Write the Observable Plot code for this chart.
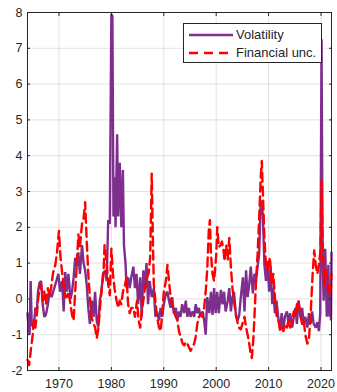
<!DOCTYPE html>
<html>
<head>
<meta charset="utf-8">
<script src="https://cdn.jsdelivr.net/npm/d3@7"></script>
<script src="https://cdn.jsdelivr.net/npm/@observablehq/plot@0.6"></script>
<style>
  html, body { margin: 0; padding: 0; background: #fff; }
  #wrap { position: relative; width: 337px; height: 392px; }
  #legend {
    position: absolute; left: 183px; top: 23px; width: 137px; height: 38px;
    background: #fff; border: 1px solid #262626;
    font-family: "Liberation Sans", Arial, sans-serif; font-size: 13px; color: #262626;
  }
  #legend .row { position: absolute; left: 0; height: 18px; width: 100%; }
  #legend svg { position: absolute; left: 4px; top: 0; }
  #legend span { position: absolute; left: 52px; top: 1px; line-height: 16px; white-space: nowrap; }
</style>
</head>
<body>
<div id="wrap"></div>
<script>
// Volatility index (standardized), sample dates in decimal years
const volDates = [
  1964.0, 1964.2, 1964.4, 1964.6, 1964.8, 1965.1, 1965.3, 1965.5, 1965.8, 1966.0,
  1966.3, 1966.6, 1966.9, 1967.2, 1967.5, 1967.9, 1968.2, 1968.6, 1969.3, 1969.9,
  1970.2, 1970.6, 1970.9, 1971.2, 1971.5, 1971.8, 1972.2, 1972.5, 1972.8, 1973.1,
  1973.4, 1973.7, 1974.0, 1974.4, 1974.7, 1975.0, 1975.3, 1975.6, 1975.9, 1976.3,
  1976.6, 1976.9, 1977.2, 1977.5, 1977.8, 1978.1, 1978.4, 1978.8, 1979.1, 1979.4,
  1979.7, 1980.0, 1980.2, 1980.4, 1980.6, 1980.8, 1981.1, 1981.3, 1981.6, 1981.9,
  1982.2, 1982.4, 1982.7, 1982.9, 1983.2, 1983.5, 1983.8, 1984.2, 1984.5, 1984.8,
  1985.1, 1985.5, 1985.8, 1986.1, 1986.4, 1986.7, 1987.0, 1987.3, 1987.7, 1988.1,
  1988.4, 1988.7, 1989.1, 1989.4, 1989.7, 1990.0, 1990.4, 1990.7, 1991.0, 1991.3,
  1991.6, 1991.9, 1992.3, 1992.6, 1992.9, 1993.2, 1993.5, 1993.9, 1994.2, 1994.5,
  1994.8, 1995.1, 1995.5, 1995.8, 1996.1, 1996.4, 1996.7, 1997.0, 1997.4, 1997.7,
  1998.0, 1998.3, 1998.7, 1999.0, 1999.3, 1999.6, 1999.9, 2000.2, 2000.5, 2000.9,
  2001.2, 2001.5, 2001.8, 2002.2, 2002.5, 2002.8, 2003.1, 2003.4, 2003.8, 2004.1,
  2004.4, 2004.7, 2005.1, 2005.4, 2005.7, 2006.0, 2006.3, 2006.6, 2007.0, 2007.3,
  2007.6, 2007.9, 2008.2, 2008.5, 2008.9, 2009.2, 2009.5, 2009.8, 2010.1, 2010.4,
  2010.7, 2010.9, 2011.2, 2011.5, 2011.9, 2012.2, 2012.5, 2012.8, 2013.1, 2013.5,
  2013.8, 2014.1, 2014.5, 2014.8, 2015.1, 2015.4, 2015.7, 2016.1, 2016.4, 2016.7,
  2017.0, 2017.4, 2017.7, 2018.0, 2018.3, 2018.6, 2019.0, 2019.3, 2019.6, 2019.85,
  2020.1, 2020.3, 2020.5, 2020.8, 2021.1, 2021.4, 2021.6, 2021.8, 2021.9, 2022.0
];
const volValues = [
  -0.4, -0.8, -1.0, 0.5, -0.7, -0.8, -0.6, -0.25, -0.3, 0.2,
  0.45, 0.5, -0.15, -0.5, -0.45, -0.15, 0.2, 0.05, 0.4, 0.7,
  0.2, 0.5, -0.35, 0.75, 0.2, 0.7, 0.0, 0.2, 0.6, 1.15,
  0.9, 1.3, 0.7, 1.5, 1.0, 0.8, 0.4, -0.25, -0.7, -0.05,
  -0.5, 0.2, -0.6, -0.8, -0.05, 0.2, 0.7, 0.8, 0.5, 2.2,
  2.1, 7.95, 7.9, 2.3, 3.4, 2.0, 4.6, 2.3, 3.8, 2.0,
  3.6, 1.5, 1.0, 0.3, 0.6, 0.3, 0.6, 0.9, 0.3, 0.7,
  -0.15, 0.6, -0.5, 0.8, 0.3, 1.0, -0.15, 0.5, 0.05, 0.3,
  -0.5, -0.35, -0.6, -0.25, -0.5, -0.15, 0.15, 0.2, -0.05, -0.25,
  0.05, -0.4, -0.25, -0.6, -0.35, -0.5, -0.15, -0.4, -0.05, -0.5,
  -0.25, -0.5, -0.35, -0.5, -0.15, -0.4, -0.25, -0.5, -0.35, -0.6,
  -1.0, 0.05, -0.4, 0.2, -0.45, 0.3, -0.4, 0.2, -0.4, 0.25,
  -0.15, 0.2, -0.35, -0.05, 0.3, -0.35, 0.05, 0.2, -0.5, -0.6,
  -0.45, 0.05, 0.6, -0.35, 0.8, 0.05, 0.4, 0.9, 0.15, 0.7,
  0.5, 0.9, 1.25, 2.75, 2.35, 0.95, 0.5, 1.05, 0.2, 0.9,
  -0.15, 0.3, -0.4, -0.05, -0.6, -0.8, -0.4, -0.9, -0.5, -0.35,
  -0.7, -0.4, -0.8, -0.5, -0.25, -0.7, -0.05, -0.5, -0.25, -0.7,
  -0.5, -0.8, -0.4, -0.7, -0.35, -0.7, -0.8, -0.65, -0.9, -0.4,
  7.25, 1.15, -0.05, 1.4, -0.5, 0.95, -0.5, 0.2, -0.6, 1.3
];

// Financial uncertainty (standardized)
const uncDates = [
  1964.0, 1964.3, 1964.7, 1965.0, 1965.2, 1965.5, 1965.8, 1966.0, 1966.3, 1966.6,
  1966.9, 1967.2, 1967.5, 1967.9, 1968.2, 1968.5, 1968.9, 1969.3, 1969.6, 1970.0,
  1970.3, 1970.6, 1970.9, 1971.2, 1971.5, 1971.8, 1972.1, 1972.5, 1972.8, 1973.1,
  1973.4, 1973.7, 1974.0, 1974.4, 1974.7, 1975.0, 1975.3, 1975.6, 1975.9, 1976.2,
  1976.6, 1976.9, 1977.2, 1977.5, 1977.8, 1978.1, 1978.5, 1978.7, 1979.1, 1979.4,
  1979.7, 1980.0, 1980.3, 1980.6, 1981.0, 1981.3, 1981.6, 1981.9, 1982.2, 1982.6,
  1982.9, 1983.2, 1983.5, 1983.8, 1984.2, 1984.5, 1984.9, 1985.2, 1985.5, 1985.8,
  1986.1, 1986.4, 1986.8, 1987.1, 1987.4, 1987.7, 1987.9, 1988.1, 1988.4, 1988.7,
  1989.1, 1989.4, 1989.7, 1990.0, 1990.4, 1990.7, 1991.0, 1991.3, 1991.6, 1991.9,
  1992.3, 1992.6, 1992.9, 1993.2, 1993.6, 1993.9, 1994.2, 1994.5, 1994.8, 1995.1,
  1995.5, 1995.8, 1996.1, 1996.4, 1996.7, 1997.0, 1997.4, 1997.7, 1998.0, 1998.3,
  1998.6, 1998.8, 1999.0, 1999.3, 1999.6, 2000.0, 2000.2, 2000.5, 2000.8, 2001.1,
  2001.4, 2001.6, 2001.9, 2002.2, 2002.5, 2002.8, 2003.1, 2003.4, 2003.7, 2004.0,
  2004.3, 2004.7, 2005.0, 2005.4, 2005.7, 2006.0, 2006.3, 2006.6, 2006.8, 2007.1,
  2007.3, 2007.6, 2007.9, 2008.2, 2008.5, 2008.7, 2008.9, 2009.2, 2009.5, 2009.8,
  2010.1, 2010.3, 2010.6, 2010.9, 2011.2, 2011.5, 2011.9, 2012.2, 2012.5, 2012.8,
  2013.2, 2013.5, 2013.8, 2014.1, 2014.5, 2014.8, 2015.1, 2015.4, 2015.7, 2016.1,
  2016.4, 2016.7, 2017.0, 2017.4, 2017.7, 2018.0, 2018.4, 2018.7, 2019.0, 2019.3,
  2019.6, 2019.9, 2020.1, 2020.3, 2020.6, 2020.9, 2021.2, 2021.5, 2021.9, 2022.0
];
const uncValues = [
  -1.7, -1.85, -1.35, -1.0, -0.6, -0.8, -0.4, -0.05, 0.3, 0.4,
  -0.05, 0.2, -0.15, 0.3, 0.05, 0.3, 0.75, 0.95, 1.25, 1.9,
  1.15, 0.75, 0.4, 0.05, 0.05, 0.2, -0.05, -0.45, -0.6, 0.2,
  0.95, 1.8, 1.45, 2.1, 2.25, 2.7, 1.6, 0.7, 0.05, -0.5,
  -0.7, -0.8, -1.1, -0.85, -0.3, 0.2, 0.7, 1.5, 1.0, 0.4,
  0.1, 1.4, 0.7, 0.3, -0.05, -0.25, -0.05, -0.15, 0.2, 0.4,
  0.6, -0.15, -0.4, -0.25, -0.25, -0.5, -0.05, -0.6, -0.8, -0.35,
  -0.05, 0.3, 0.6, 0.7, 1.15, 3.5, 1.8, 0.4, -0.05, -0.5,
  -0.8, -0.9, -0.45, 0.2, 0.5, 0.95, 0.5, 0.05, -0.15, -0.35,
  -0.5, -0.6, -0.9, -1.05, -1.25, -1.3, -1.2, -1.25, -1.35, -1.45,
  -1.35, -1.25, -1.05, -0.7, -0.5, -0.45, -0.5, -0.25, 0.2, 0.85,
  1.95, 2.2, 1.25, 0.7, 0.5, 1.2, 2.0, 1.45, 1.5, 1.6,
  1.35, 1.05, 1.5, 1.1, 1.7, 0.9, 0.3, -0.05, -0.4, -0.6,
  -0.8, -0.85, -0.7, -0.5, -0.8, -1.0, -1.25, -1.55, -1.65, -1.1,
  -0.5, 0.5, 1.25, 2.25, 3.4, 3.85, 3.0, 1.7, 0.95, 0.8,
  1.15, 1.05, 0.4, 0.7, 0.05, -0.45, -0.6, -0.9, -0.8, -0.9,
  -0.7, -0.8, -0.6, -0.8, -0.6, -0.35, -0.5, -0.15, -0.05, -0.5,
  -0.7, -0.6, -1.0, -1.25, -1.1, -0.5, 0.7, 1.35, 0.95, 0.7,
  0.95, 1.35, 3.3, 1.6, 0.4, 0.8, 0.5, 0.1, 0.3, 0.7
];

const xTicks = [1970, 1980, 1990, 2000, 2010, 2020];
const yTicks = [-2, -1, 0, 1, 2, 3, 4, 5, 6, 7, 8];
const seriesNames = ["Volatility", "Financial unc."];

const vol = volDates.map((t, i) => ({t, v: volValues[i]}));
const unc = uncDates.map((t, i) => ({t, v: uncValues[i]}));

const ink = "#262626";
const purple = "#7E2F8E";
const red = "#FF0000";

const chart = Plot.plot({
  width: 337,
  height: 392,
  marginLeft: 27,
  marginRight: 6,
  marginTop: 12,
  marginBottom: 22,
  style: {fontFamily: "'Liberation Sans', Arial, sans-serif", fontSize: "12.5px", color: ink, background: "#fff"},
  x: {domain: [1964, 2022]},
  y: {domain: [-2, 8]},
  marks: [
    Plot.gridX(xTicks, {stroke: ink, strokeOpacity: 0.13}),
    Plot.gridY(yTicks, {stroke: ink, strokeOpacity: 0.13}),
    Plot.line(vol, {x: "t", y: "v", stroke: purple, strokeWidth: 2.4, strokeLinejoin: "miter"}),
    Plot.line(unc, {x: "t", y: "v", stroke: red, strokeWidth: 2.4, strokeDasharray: "9,5"}),
    Plot.frame({stroke: ink, strokeWidth: 1}),
    // inward tick marks on all four sides
    Plot.axisX(xTicks, {anchor: "bottom", tickSize: -3, tickFormat: () => "", label: null, stroke: ink}),
    Plot.axisX(xTicks, {anchor: "top", tickSize: -3, tickFormat: () => "", label: null, stroke: ink}),
    Plot.axisY(yTicks, {anchor: "left", tickSize: -3, tickFormat: () => "", label: null, stroke: ink}),
    Plot.axisY(yTicks, {anchor: "right", tickSize: -3, tickFormat: () => "", label: null, stroke: ink}),
    // tick labels
    Plot.axisX(xTicks, {anchor: "bottom", tickSize: 0, tickPadding: 9, tickFormat: d => String(d), label: null, fill: ink}),
    Plot.axisY(yTicks, {anchor: "left", tickSize: 0, tickPadding: 5, tickFormat: d => String(d), label: null, fill: ink})
  ]
});

const wrap = document.getElementById("wrap");
wrap.appendChild(chart);

// Legend box drawn over the upper right of the plot area
const legend = document.createElement("div");
legend.id = "legend";
legend.innerHTML = `
  <div class="row" style="top:2px">
    <svg width="46" height="18"><line x1="1" x2="45" y1="9" y2="9" stroke="${purple}" stroke-width="2.4"/></svg>
    <span>${seriesNames[0]}</span>
  </div>
  <div class="row" style="top:20px">
    <svg width="46" height="18"><line x1="1" x2="45" y1="9" y2="9" stroke="${red}" stroke-width="2.4" stroke-dasharray="9,6"/></svg>
    <span>${seriesNames[1]}</span>
  </div>`;
wrap.appendChild(legend);
</script>
</body>
</html>
